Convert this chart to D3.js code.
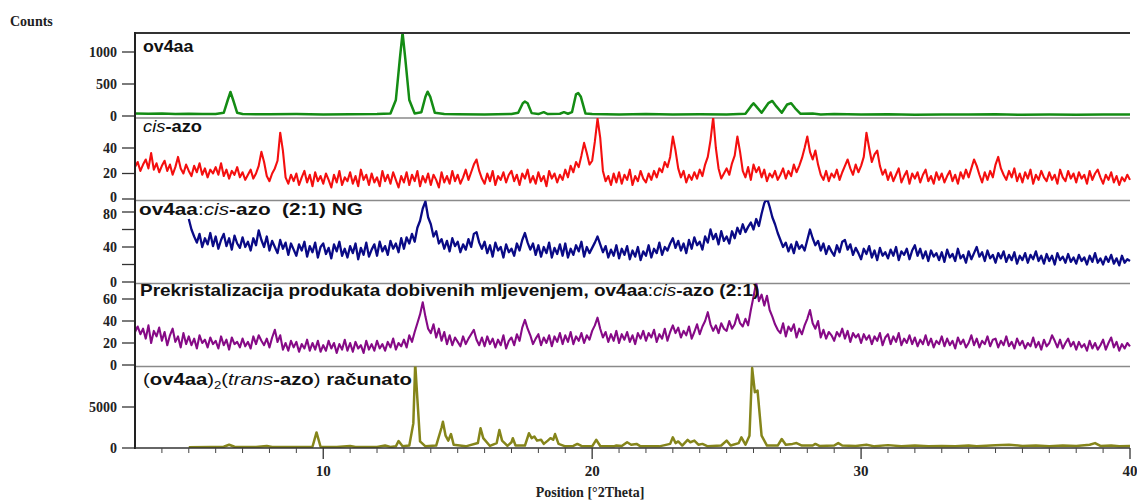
<!DOCTYPE html>
<html><head><meta charset="utf-8">
<script src="https://cdn.jsdelivr.net/npm/d3@7"></script>
<style>body{margin:0;background:#fff}svg{display:block}</style>
</head><body>
<svg id="c" width="1137" height="500"></svg>
<script>
// ---------- DATA ----------
const xDomain = [3, 40];
const xMajorTicks = [10, 20, 30, 40];
const xMinorTicks = d3.range(4, 40, 1);

// ov4aa (counts) : [2theta, counts]
const ov4aa = [[3.0,40],[3.5,35],[4.0,38],[4.5,30],[5.0,35],[5.5,30],[6.0,32],[6.3,50],[6.45,250],[6.55,375],[6.65,250],[6.8,50],[7.0,30],[8,28],[9,30],[10,25],[11,28],[12,30],[12.5,40],[12.7,250],[12.85,900],[12.95,1300],[13.05,900],[13.2,250],[13.4,40],[13.65,60],[13.8,300],[13.88,380],[13.98,300],[14.15,50],[14.5,30],[15,28],[16,25],[17,30],[17.25,50],[17.42,200],[17.5,225],[17.6,200],[17.75,45],[18.0,30],[18.2,60],[18.35,30],[18.8,35],[18.95,60],[19.1,35],[19.25,60],[19.4,340],[19.48,360],[19.58,300],[19.75,40],[20,30],[21,25],[22,30],[23,25],[24,28],[25,25],[25.7,35],[25.9,150],[26.0,200],[26.1,150],[26.3,50],[26.55,200],[26.7,235],[26.85,150],[27.05,50],[27.25,180],[27.4,200],[27.55,120],[27.75,35],[28.2,40],[28.5,25],[29,30],[30,22],[31,28],[32,20],[33,25],[34,22],[35,26],[36,20],[37,24],[38,21],[39,25],[40,22]];

// cis-azo : start 3.0, step 0.1
const cisStart = 3.0, cisStep = 0.1;
const cisAzo = [
25,29,22,27,31,24,36,23,28,21, 26,30,22,27,19,25,33,24,20,27,
22,18,26,21,28,19,24,17,23,20, 25,19,28,18,23,16,22,19,25,17,
21,15,19,23,16,20,26,37,29,18, 14,20,24,30,52,38,17,12,19,14,
20,11,17,22,13,19,10,21,14,18, 12,20,15,9,19,13,22,11,17,14,
21,12,18,10,23,15,19,11,20,13, 17,10,22,14,19,12,21,15,9,18,
13,21,11,19,14,22,10,18,13,20, 11,19,15,9,21,13,18,12,22,14,
19,12,17,23,15,21,27,31,22,16, 12,20,14,22,11,18,15,21,13,19,
22,14,19,11,20,16,23,13,18,12, 21,14,18,10,22,16,20,13,19,15,
23,17,26,21,29,25,34,44,36,27, 30,45,63,48,22,14,18,11,20,13,
21,12,19,15,23,11,18,14,22,16, 13,20,15,22,17,24,21,29,25,33,
49,38,24,17,22,13,19,15,21,16, 23,18,27,33,46,64,40,24,16,20,
24,19,28,34,49,37,22,17,25,15, 27,21,25,17,23,14,20,17,22,15,
19,24,16,22,18,27,21,26,32,40, 49,37,31,38,27,19,15,22,14,20,
17,23,15,21,26,31,24,19,27,21, 26,33,52,40,29,35,38,26,19,23,
15,21,14,19,24,13,18,22,12,20, 16,21,13,19,23,14,18,12,21,15,
20,13,18,22,14,19,12,21,16,23, 17,24,31,26,19,13,21,15,22,17,
27,33,24,19,15,22,17,24,14,20, 13,21,16,23,12,19,15,22,17,14,
21,15,19,12,23,17,14,22,16,20, 13,21,16,19,12,22,15,20,23,17,
12,19,15,21,13,18,11,17,14,19, 15];

// ov4aa:cis-azo (2:1) NG : start 5.0, step 0.1
const ngStart = 5.0, ngStep = 0.1;
const ng = [
72,60,52,45,55,40,50,43,56,41, 52,38,48,55,41,50,37,53,44,39,
51,40,46,36,50,42,59,48,40,52, 36,47,40,33,48,38,45,31,44,37,
30,43,36,46,29,41,34,45,28,40, 44,32,39,27,43,35,46,30,38,28,
41,33,44,26,39,31,45,29,37,43, 30,46,35,41,31,47,38,44,34,50,
38,51,44,55,46,62,70,84,92,74, 66,52,58,44,49,38,47,35,50,41,
46,34,43,37,49,40,55,57,45,38, 46,33,42,29,45,36,40,28,43,34,
38,30,44,36,48,56,45,37,44,31, 42,29,40,33,45,28,39,32,43,30,
44,28,38,31,42,35,46,29,40,33, 39,45,52,43,34,41,28,37,30,42,
27,38,31,41,26,36,29,40,25,35, 30,42,28,38,33,45,31,40,36,44,
50,39,47,36,44,33,48,38,51,42, 46,37,52,45,60,49,55,43,58,47,
52,44,58,50,62,55,66,57,63,68, 60,72,64,78,90,96,86,74,66,56,
48,40,45,35,43,33,46,38,42,36, 48,60,50,42,47,36,44,32,41,35,
30,42,34,46,48,37,43,31,39,33, 26,38,32,41,28,36,25,39,30,34,
27,37,30,40,25,35,31,38,26,36, 42,30,38,27,35,24,36,29,33,25,
34,23,37,28,32,24,38,27,31,22, 35,26,33,40,29,34,24,36,27,31,
22,33,27,35,23,31,25,34,21,30, 25,33,22,31,26,35,24,30,21,32,
24,30,20,33,25,29,22,32,23,28, 21,31,24,28,20,30,23,33,22,27,
20,29,23,31,21,27,19,30,22,26, 24];

// Prekristalizacija : start 3.0, step 0.1
const preStart = 3.0, preStep = 0.1;
const prek = [
30,35,28,33,24,36,20,31,26,34, 22,30,18,27,33,21,26,16,29,19,
26,18,24,15,27,20,23,16,25,19, 22,15,26,18,23,14,25,19,21,16,
24,17,21,15,26,19,27,22,18,24, 16,25,32,21,27,14,20,13,22,16,
21,12,19,15,23,13,20,14,22,12, 18,13,22,15,20,11,19,14,23,13,
20,12,21,15,18,11,22,14,19,13, 22,15,19,13,21,16,24,14,20,17,
23,16,27,21,30,38,46,57,44,33, 29,37,25,33,22,30,19,27,18,25,
21,17,26,19,24,28,32,23,18,25, 17,26,19,24,16,23,18,27,15,22,
25,18,28,22,34,41,33,27,19,24, 28,18,25,20,27,17,26,21,29,19,
27,21,30,19,26,22,29,20,27,23, 31,36,43,33,25,30,21,28,22,31,
20,28,23,30,21,27,19,29,24,31, 22,29,25,32,21,28,24,33,22,30,
36,29,34,25,31,27,35,24,30,37, 28,35,40,48,37,31,36,29,38,33,
31,40,33,37,46,38,35,42,36,50, 62,75,58,64,54,63,50,44,37,32,
29,38,26,35,31,37,25,33,28,36, 42,50,38,33,40,25,32,24,30,27,
22,30,26,33,24,31,21,29,25,28, 20,28,23,27,19,26,22,29,18,25,
28,19,26,21,29,18,24,20,27,19, 25,17,23,19,27,18,24,16,22,19,
26,17,24,18,22,15,25,19,23,16, 20,27,18,24,16,22,19,26,17,23,
24,16,22,18,26,17,21,15,24,18, 22,15,20,17,25,16,21,14,23,17,
20,27,22,16,23,15,20,24,17,21, 14,21,16,19,13,22,15,20,14,18,
23,14,20,25,16,21,13,19,15,20, 17];

// (ov4aa)2(trans-azo) calculated : [2theta, counts]
const calc = [[5.0,100],[5.8,120],[6.3,150],[6.5,400],[6.7,150],[7.5,120],[7.9,250],[8.1,120],[9.0,110],[9.6,150],[9.75,1900],[9.9,150],[10.5,120],[11.0,250],[11.2,120],[12.0,130],[12.3,300],[12.5,130],[12.7,200],[12.8,850],[12.95,200],[13.2,300],[13.35,3000],[13.42,10300],[13.5,6000],[13.6,800],[13.8,200],[14.2,300],[14.4,2500],[14.45,3200],[14.55,1500],[14.65,900],[14.75,1700],[14.85,400],[15.3,200],[15.75,600],[15.85,2400],[15.95,1200],[16.2,250],[16.45,600],[16.55,2200],[16.65,900],[16.85,250],[17.0,700],[17.05,1200],[17.15,300],[17.5,300],[17.65,1800],[17.75,1200],[17.85,1400],[17.95,900],[18.1,1000],[18.2,500],[18.35,900],[18.45,1200],[18.55,1000],[18.62,1700],[18.75,500],[19.0,200],[19.3,250],[19.45,500],[19.6,250],[20.0,200],[20.15,1000],[20.3,250],[20.8,200],[20.9,300],[21.1,250],[21.3,700],[21.45,400],[21.65,500],[21.8,200],[22.5,200],[22.9,500],[23.0,1300],[23.1,600],[23.2,800],[23.35,300],[23.55,1000],[23.65,700],[23.8,900],[23.95,400],[24.1,500],[24.3,200],[24.8,300],[25.0,900],[25.15,300],[25.45,600],[25.55,1300],[25.7,400],[25.85,1500],[25.95,9750],[26.05,6800],[26.15,7000],[26.3,1500],[26.5,300],[26.9,300],[27.05,1100],[27.2,400],[27.45,500],[27.6,600],[27.8,300],[28.2,300],[28.3,500],[28.45,250],[29.0,300],[29.15,600],[29.3,300],[29.8,250],[30.2,400],[30.5,200],[31.0,350],[31.5,200],[32.0,300],[32.5,200],[33.0,250],[33.5,200],[34.0,300],[34.3,200],[35.0,350],[35.5,400],[36.0,250],[36.5,300],[37.0,200],[37.5,300],[38.0,250],[38.5,400],[38.7,600],[38.9,250],[39.3,300],[39.6,200],[40.0,250]];

const ticksP1 = [0, 500, 1000];
const ticksP2 = [0, 20, 40];
const ticksP3 = [0, 20, 40, 60, 80];
const labelsP3 = [0, 40, 80];
const ticksP4 = [0, 20, 40, 60];
const ticksP5 = [0, 5000];

// ---------- LAYOUT ----------
const svg = d3.select("#c");
const L = 135, R = 1130, TOP = 33, BOT = 448;
const x = d3.scaleLinear().domain(xDomain).range([L, R]);
const serif = "'Liberation Serif','Times New Roman',serif";
const sans = "'Liberation Sans',Arial,sans-serif";

const grid = (start, step, vals) => vals.map((v, i) => [start + i * step, v]);

const panels = [
  {top: TOP, bottom: 118, y: d3.scaleLinear().domain([0, 1000]).range([116, 52]), ticks: ticksP1, labels: ticksP1, data: ov4aa, color: "#148c14", sw: 2.5, nudge: {}},
  {top: 118, bottom: 200.5, y: d3.scaleLinear().domain([0, 40]).range([199, 148]), ticks: ticksP2, labels: ticksP2, data: grid(cisStart, cisStep, cisAzo), color: "#f40f0f", sw: 2.1, nudge: {0: -2}},
  {top: 200.5, bottom: 283.5, y: d3.scaleLinear().domain([0, 80]).range([282, 212]), ticks: ticksP3, labels: labelsP3, data: grid(ngStart, ngStep, ng), color: "#0a0a86", sw: 2.3, nudge: {80: 2}},
  {top: 283.5, bottom: 366.5, y: d3.scaleLinear().domain([0, 60]).range([365, 299]), ticks: ticksP4, labels: ticksP4, data: grid(preStart, preStep, prek), color: "#860a86", sw: 2.1, nudge: {}},
  {top: 366.5, bottom: BOT, y: d3.scaleLinear().domain([0, 5000]).range([448, 407]), ticks: ticksP5, labels: ticksP5, data: calc, color: "#85851a", sw: 2.5, nudge: {}}
];

const defs = svg.append("defs");
panels.forEach((p, i) => {
  defs.append("clipPath").attr("id", "clip" + i).append("rect")
    .attr("x", L).attr("y", p.top).attr("width", R - L + 2).attr("height", p.bottom - p.top);
});

// separators
panels.slice(1).forEach(p => {
  svg.append("line").attr("x1", L).attr("x2", R).attr("y1", p.top).attr("y2", p.top)
    .attr("stroke", "#8a8a8a").attr("stroke-width", 1.5);
});

// series
panels.forEach((p, i) => {
  const line = d3.line().x(d => x(d[0])).y(d => p.y(d[1]));
  svg.append("path").datum(p.data).attr("d", line)
    .attr("fill", "none").attr("stroke", p.color).attr("stroke-width", p.sw)
    .attr("stroke-linejoin", "round").attr("clip-path", `url(#clip${i})`);
});

// y axes
panels.forEach(p => {
  const g = svg.append("g");
  p.ticks.forEach(t => {
    g.append("line").attr("x1", 122).attr("x2", L).attr("y1", p.y(t)).attr("y2", p.y(t))
      .attr("stroke", "#333").attr("stroke-width", 1.3);
  });
  p.labels.forEach(t => {
    g.append("text").attr("x", 117).attr("y", p.y(t) + (p.nudge[t] || 0)).attr("dy", "0.35em")
      .attr("text-anchor", "end").attr("font-family", serif).attr("font-weight", "bold")
      .attr("font-size", 14).attr("fill", "#222").text(t);
  });
});

// frame
svg.append("line").attr("x1", L).attr("x2", R).attr("y1", TOP).attr("y2", TOP).attr("stroke", "#333").attr("stroke-width", 2);
svg.append("line").attr("x1", L).attr("x2", L).attr("y1", TOP - 1).attr("y2", BOT + 1).attr("stroke", "#222").attr("stroke-width", 2);
svg.append("line").attr("x1", L).attr("x2", R).attr("y1", BOT).attr("y2", BOT).attr("stroke", "#333").attr("stroke-width", 1.5);

// x axis ticks
xMinorTicks.filter(t => !xMajorTicks.includes(t)).forEach(t => {
  svg.append("line").attr("x1", x(t)).attr("x2", x(t)).attr("y1", BOT).attr("y2", BOT + 5).attr("stroke", "#444").attr("stroke-width", 1);
});
xMajorTicks.forEach(t => {
  svg.append("line").attr("x1", x(t)).attr("x2", x(t)).attr("y1", BOT).attr("y2", BOT + 11).attr("stroke", "#333").attr("stroke-width", 1.3);
  svg.append("text").attr("x", x(t)).attr("y", 476).attr("text-anchor", "middle")
    .attr("font-family", serif).attr("font-weight", "bold").attr("font-size", 15).attr("fill", "#222").text(t);
});

// axis titles
svg.append("text").attr("x", 10).attr("y", 26).attr("font-family", serif).attr("font-weight", "bold")
  .attr("font-size", 14).attr("fill", "#222").text("Counts");
svg.append("text").attr("x", 590).attr("y", 497).attr("text-anchor", "middle").attr("font-family", serif)
  .attr("font-weight", "bold").attr("font-size", 14).attr("fill", "#222").text("Position [°2Theta]");

// panel labels (rich text), horizontally stretched to the reference widths
function rich(xp, yp, parts, size, targetW) {
  const g = svg.append("g");
  const t = g.append("text").attr("x", 0).attr("y", 0).attr("font-family", sans)
    .attr("font-size", size).attr("fill", "#111").attr("xml:space", "preserve");
  parts.forEach(([s, st]) => {
    const ts = t.append("tspan").text(s);
    ts.attr("font-weight", st.includes("b") ? "bold" : "normal");
    if (st.includes("i")) ts.attr("font-style", "italic");
    if (st.includes("s")) ts.attr("font-size", size * 0.65).attr("dy", 4);
    if (st.includes("u")) ts.attr("dy", -4);
  });
  const w = t.node().getBBox().width;
  const sx = targetW && w ? targetW / w : 1;
  g.attr("transform", `translate(${xp},${yp}) scale(${sx},1)`);
}
rich(143, 52, [["ov4aa", "b"]], 17, 51);
rich(143, 132, [["cis", "i"], ["-azo", "b"]], 17, 59);
rich(139, 215, [["ov4aa", "b"], [":", ""], ["cis", "i"], ["-azo  (2:1) NG", "b"]], 17, 224);
rich(140, 296, [["Prekristalizacija produkata dobivenih mljevenjem, ov4aa", "b"], [":", ""], ["cis", "i"], ["-azo (2:1)", "b"]], 16, 620);
rich(143, 385, [["(", ""], ["ov4aa", "b"], [")", ""], ["2", "s"], ["(", "u"], ["trans", "i"], ["-azo", "b"], [")", ""], [" računato", "b"]], 17, 269);
</script>
</body></html>
